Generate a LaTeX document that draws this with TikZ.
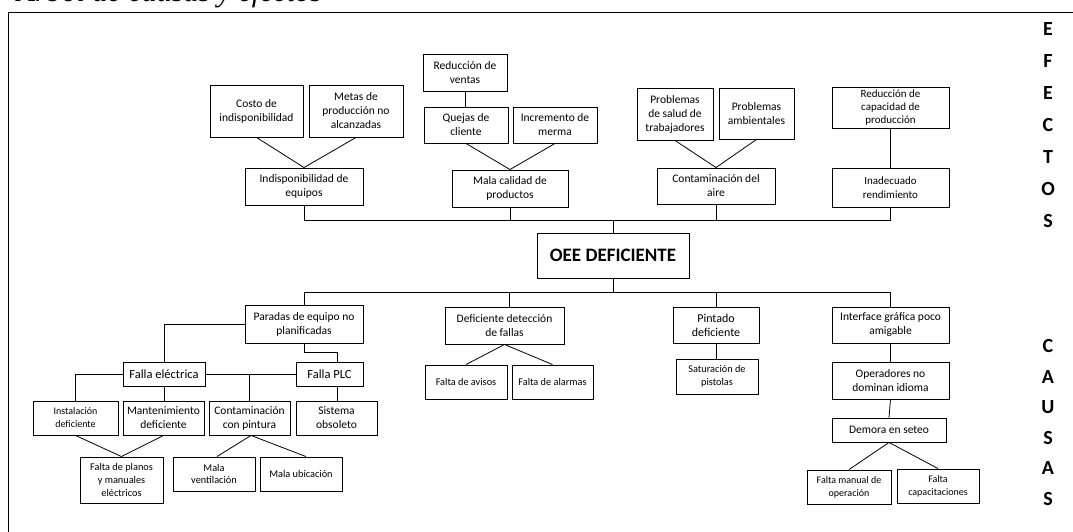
\documentclass[tikz,border=0pt]{standalone}
\usepackage{fontspec}
\setmainfont{Carlito}
\newfontfamily\titlefont{Liberation Serif}
\usetikzlibrary{calc}
\begin{document}
\begin{tikzpicture}[x=1pt,y=-1pt,
  box/.style={draw, line width=0.9pt, align=center, inner sep=1pt,
              font=\fontsize{11.5}{14}\selectfont},
  sbox/.style={box, font=\fontsize{10.3}{12.8}\selectfont},
  mbox/.style={box, font=\fontsize{12.5}{14}\selectfont},
  sz/.style 2 args={minimum width=#1pt, minimum height=#2pt},
  link/.style={line width=0.8pt},
  side/.style={font=\bfseries\fontsize{20}{20}\selectfont, inner sep=0pt}]
\useasboundingbox (0,0) rectangle (1073,532);

% caption and frame
\node[anchor=base east, inner sep=0pt, font=\titlefont\itshape\fontsize{30}{30}\selectfont]
  (title) at (322,2) {Árbol de causas y efectos};
\draw[line width=0.9pt] (8,540) -- (8,12) -- (1080,12);

% side labels
\foreach \c [count=\i] in {E,F,E,C,T,O,S}
  \node[side] (ef\i) at (1048,{29+32*(\i-1)}) {\c};
\foreach \c [count=\i] in {C,A,U,S,A,S}
  \node[side] (ca\i) at (1048,{346+30.6*(\i-1)}) {\c};

% ---------- effects ----------
\node[box, sz={93}{52}] (costo) at (256.5,111) {Costo de\\indisponibilidad};
\node[box, sz={94}{52}] (metas) at (356,111) {Metas de\\producción no\\alcanzadas};
\node[box, sz={118}{37}] (indisp) at (304,186.5) {Indisponibilidad de\\equipos};

\node[box, sz={84}{37}] (redventas) at (465,72.5) {Reducción de\\ventas};
\node[box, sz={84}{36}] (quejas) at (466,125) {Quejas de\\cliente};
\node[box, sz={84}{36}] (merma) at (555,125) {Incremento de\\merma};
\node[box, sz={116}{37}] (mala) at (510,188.5) {Mala calidad de\\productos};

\node[box, sz={76}{52}] (salud) at (675,114) {Problemas\\de salud de\\trabajadores};
\node[box, sz={75}{51}] (ambient) at (756.5,113.5) {Problemas\\ambientales};
\node[box, sz={118}{36}] (contam) at (716,186) {Contaminación del\\aire};

\node[box, sz={117}{41}, font=\fontsize{11}{13}\selectfont] (redcap) at (890.5,107.5) {Reducción de\\capacidad de\\producción};
\node[box, sz={117}{39}, font=\fontsize{11}{13.5}\selectfont] (inadec) at (890.5,187.5) {Inadecuado\\rendimiento};

% ---------- central problem ----------
\node[box, sz={152}{45}, font=\bfseries\fontsize{19}{21}\selectfont] (oee) at (613,255.5) {OEE DEFICIENTE};

% ---------- causes ----------
\node[box, sz={118}{38}] (paradas) at (304,324) {Paradas de equipo no\\planificadas};
\node[mbox, sz={82}{24}] (felec) at (164,374) {Falla eléctrica};
\node[mbox, sz={67}{24}] (fplc) at (329.5,374) {Falla PLC};
\node[sbox, sz={85}{34}, font=\fontsize{10}{13}\selectfont] (instal) at (75.5,418) {Instalación\\deficiente};
\node[box, sz={81}{34}] (manten) at (163.5,418) {Mantenimiento\\deficiente};
\node[box, sz={81}{34}] (contpint) at (249.5,418) {Contaminación\\con pintura};
\node[box, sz={81}{34}] (sistema) at (336.5,418) {Sistema\\obsoleto};
\node[sbox, sz={83}{46}] (planos) at (121.5,480) {Falta de planos\\y manuales\\eléctricos};
\node[sbox, sz={82}{34}] (ventil) at (214,474) {Mala\\ventilación};
\node[sbox, sz={82}{34}] (ubic) at (301,474) {Mala ubicación};

\node[box, sz={119}{37}] (detec) at (504.5,325.5) {Deficiente detección\\de fallas};
\node[sbox, sz={82}{34}] (avisos) at (466,382) {Falta de avisos};
\node[sbox, sz={81}{34}] (alarmas) at (552.5,382) {Falta de alarmas};

\node[box, sz={86}{36}, font=\fontsize{12}{14}\selectfont] (pintado) at (716,325) {Pintado\\deficiente};
\node[sbox, sz={82}{35}] (satur) at (717,376.5) {Saturación de\\pistolas};

\node[box, sz={117}{36}] (interf) at (890.5,325) {Interface gráfica poco\\amigable};
\node[box, sz={117}{37}] (operad) at (890.5,380.5) {Operadores no\\dominan idioma};
\node[box, sz={114}{24}] (demora) at (889,430) {Demora en seteo};
\node[sbox, sz={84}{34}, font=\fontsize{10}{13}\selectfont] (fmanual) at (849,487) {Falta manual de\\operación};
\node[sbox, sz={82}{34}, font=\fontsize{10}{13}\selectfont] (fcapac) at (938,486) {Falta\\capacitaciones};

% bus levels
\coordinate (topbus) at (0,220);
\coordinate (botbus) at (0,292);

% ---------- effect connectors ----------
\draw[link] (costo.south) -- (indisp.north);
\draw[link] (metas.south) -- (indisp.north);
\draw[link] (redventas.south) -- (redventas.south |- quejas.north);
\draw[link] (quejas.south) -- (mala.north);
\draw[link] (merma.south) -- (mala.north);
\draw[link] (salud.south) -- (contam.north);
\draw[link] (ambient.south) -- (contam.north);
\draw[link] (redcap.south) -- (inadec.north);

\draw[link] (indisp.south) -- (indisp.south |- topbus) -- (inadec.south |- topbus) -- (inadec.south);
\draw[link] (mala.south) -- (mala.south |- topbus);
\draw[link] (contam.south) -- (contam.south |- topbus);
\draw[link] (oee.north) -- (oee.north |- topbus);

% ---------- cause connectors ----------
\draw[link] (oee.south) -- (oee.south |- botbus);
\draw[link] (paradas.north) -- (paradas.north |- botbus) -- (interf.north |- botbus) -- (interf.north);
\coordinate (detectop) at ($(detec.north)+(4.5,0)$);
\draw[link] (detectop) -- (detectop |- botbus);
\draw[link] (pintado.north) -- (pintado.north |- botbus);

\draw[link] (detec.south) -- (avisos.north);
\draw[link] (detec.south) -- (alarmas.north);
\draw[link] (pintado.south) -- (pintado.south |- satur.north);

\draw[link] (interf.south) -- (operad.north);
\draw[link] (operad.south) -- (demora.north);
\draw[link] (demora.south) -- (fmanual.north);
\draw[link] (demora.south) -- (fcapac.north);

% tree of unplanned stops
\coordinate (plcdrop) at ($(fplc.north)+(7.5,0)$);
\draw[link] (paradas.west) -| (felec.north);
\draw[link] (paradas.south) -- ++(0,9) -| (plcdrop);
\draw[link] (felec.east) -- (fplc.west);
\coordinate (cpjoin) at (felec.east -| contpint.north);
\draw[link] (cpjoin) -- (contpint.north);
\draw[link] (felec.west) -| (instal.north);
\draw[link] (felec.south) -- (felec.south |- manten.north);
\draw[link] (plcdrop |- fplc.south) -- (plcdrop |- sistema.north);

\draw[link] (instal.south) -- (planos.north);
\draw[link] (manten.south) -- (planos.north);
\coordinate (cpbot) at ($(contpint.south)+(1.5,0)$);
\draw[link] (cpbot) -- ($(ventil.north)+(3,0)$);
\draw[link] (cpbot) -- ($(ubic.north)+(5,0)$);
\end{tikzpicture}
\end{document}
